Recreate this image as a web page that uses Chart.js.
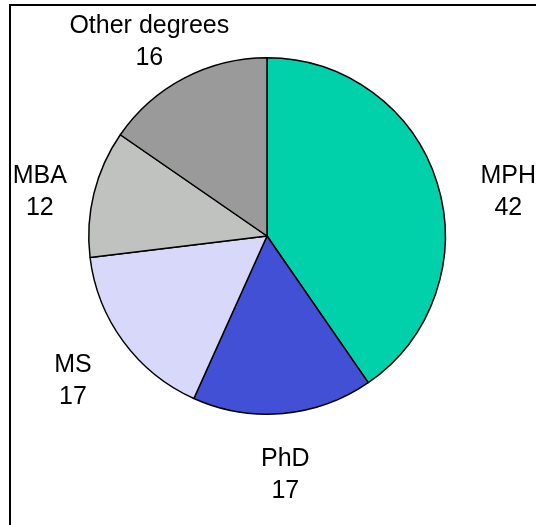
<!DOCTYPE html>
<html>
<head>
<meta charset="utf-8">
<script src="https://cdn.jsdelivr.net/npm/chart.js@4/dist/chart.umd.min.js"></script>
<style>
  html, body { margin: 0; padding: 0; background: #fff; }
  #wrap { position: relative; width: 536px; height: 525px; }
</style>
</head>
<body>
<div id="wrap"><canvas id="c" width="536" height="525"></canvas></div>
<script>
// Degree categories and counts
const categories = ['MPH', 'PhD', 'MS', 'MBA', 'Other degrees'];
const counts = [42, 17, 17, 12, 16];
const sliceColors = ['#00D1AA', '#4250D5', '#D8D8FA', '#C0C2C0', '#9A9A9A'];

// Label placement: distance from pie centre to the label block, plus small nudges
const labelDistance = 236;
const labelNudges = [[16, 24], [-3, 2], [-4, 3], [2, 10], [-8, 13]];

const labelFont = '25px "Liberation Sans", Arial, Helvetica, sans-serif';

const framePlugin = {
  id: 'frame',
  beforeDraw(chart) {
    const ctx = chart.ctx;
    ctx.save();
    ctx.fillStyle = '#fff';
    ctx.fillRect(0, 0, chart.width, chart.height);
    ctx.strokeStyle = '#000';
    ctx.lineWidth = 2;
    ctx.beginPath();
    ctx.moveTo(10, chart.height + 2);
    ctx.lineTo(10, 5);
    ctx.lineTo(chart.width + 2, 5);
    ctx.stroke();
    ctx.restore();
  }
};

const sliceLabels = {
  id: 'sliceLabels',
  afterDatasetsDraw(chart) {
    const ctx = chart.ctx;
    const meta = chart.getDatasetMeta(0);
    ctx.save();
    ctx.font = labelFont;
    ctx.fillStyle = '#000';
    ctx.textAlign = 'center';
    ctx.textBaseline = 'alphabetic';
    meta.data.forEach((arc, i) => {
      const p = arc.getProps(['x', 'y', 'startAngle', 'endAngle'], true);
      const mid = (p.startAngle + p.endAngle) / 2;
      const cx = p.x + Math.cos(mid) * labelDistance + labelNudges[i][0];
      const cy = p.y + Math.sin(mid) * labelDistance + labelNudges[i][1];
      ctx.fillText(categories[i], cx, cy - 7);
      ctx.fillText(String(counts[i]), cx, cy + 25);
    });
    ctx.restore();
  }
};

new Chart(document.getElementById('c'), {
  type: 'pie',
  data: {
    labels: categories,
    datasets: [{
      data: counts,
      backgroundColor: sliceColors,
      borderColor: '#000',
      borderWidth: 1.5
    }]
  },
  options: {
    responsive: false,
    animation: false,
    layout: { padding: { left: 88, right: 90, top: 57, bottom: 110 } },
    plugins: {
      legend: { display: false },
      tooltip: { enabled: false }
    }
  },
  plugins: [framePlugin, sliceLabels]
});
</script>
</body>
</html>
